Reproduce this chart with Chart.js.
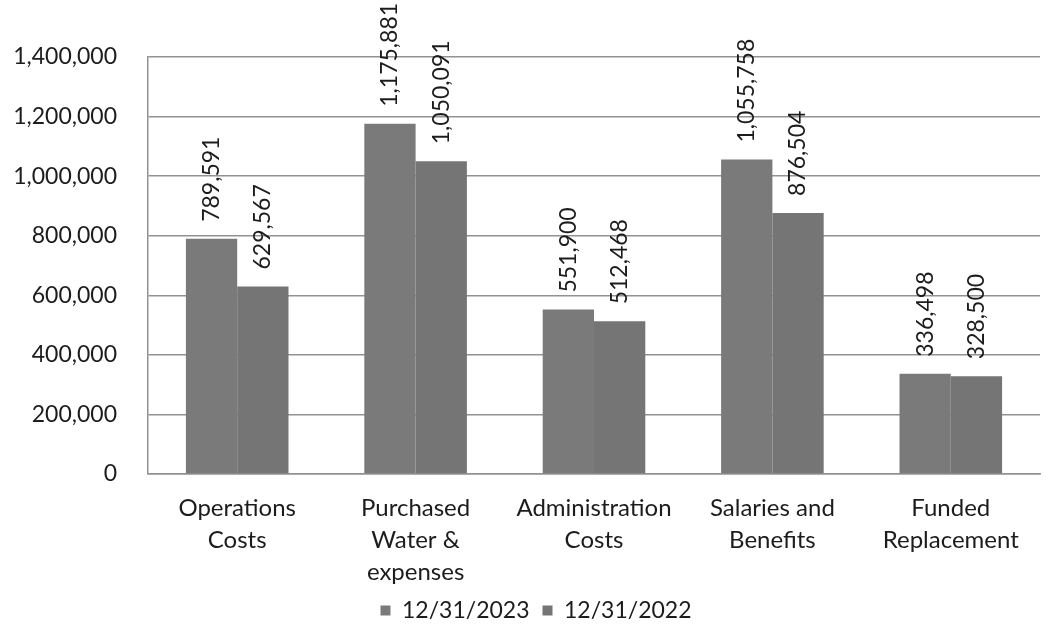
<!DOCTYPE html>
<html>
<head>
<meta charset="utf-8">
<script src="https://cdn.jsdelivr.net/npm/chart.js@4/dist/chart.umd.min.js"></script>
<style>
  html, body { margin: 0; padding: 0; background: #fff; }
  #wrap { width: 1046px; height: 635px; }
</style>
</head>
<body>
<div id="wrap"><canvas id="costChart" width="1046" height="635"></canvas></div>
<script>
const categories = [
  ['Operations', 'Costs'],
  ['Purchased', 'Water &', 'expenses'],
  ['Administration', 'Costs'],
  ['Salaries and', 'Benefits'],
  ['Funded', 'Replacement']
];
const seriesNames = ['12/31/2023', '12/31/2022'];
const values2023 = [789591, 1175881, 551900, 1055758, 336498];
const values2022 = [629567, 1050091, 512468, 876504, 328500];
const yTicks = [0, 200000, 400000, 600000, 800000, 1000000, 1200000, 1400000];

const FONT = 'Lato, "Liberation Sans", sans-serif';
const TEXT = '#1c1c1c';
const GRID = '#929292';

// vertical value labels above each bar
const barLabels = {
  id: 'barLabels',
  afterDatasetsDraw(chart) {
    const ctx = chart.ctx;
    ctx.save();
    ctx.fillStyle = TEXT;
    ctx.font = '23px ' + FONT;
    ctx.textAlign = 'left';
    ctx.textBaseline = 'middle';
    chart.data.datasets.forEach((ds, i) => {
      chart.getDatasetMeta(i).data.forEach((bar, j) => {
        ctx.save();
        ctx.translate(bar.x, bar.y - 17);
        ctx.rotate(-Math.PI / 2);
        ctx.fillText(ds.data[j].toLocaleString('en-US'), 0, 0);
        ctx.restore();
      });
    });
    ctx.restore();
  }
};

// legend sits centred under the plot area rather than the whole canvas
const legendShift = {
  id: 'legendShift',
  afterLayout(chart) {
    const lg = chart.legend;
    if (!lg) return;
    lg.left += 16;
    lg.right += 16;
  }
};

new Chart(document.getElementById('costChart'), {
  type: 'bar',
  data: {
    labels: categories,
    datasets: [
      { label: seriesNames[0], data: values2023, backgroundColor: '#7a7a7a' },
      { label: seriesNames[1], data: values2022, backgroundColor: '#757575' }
    ]
  },
  options: {
    responsive: false,
    animation: false,
    devicePixelRatio: 1,
    layout: { padding: { top: 57, right: 6, left: 0, bottom: 3 } },
    datasets: { bar: { categoryPercentage: 0.575, barPercentage: 1.0 } },
    scales: {
      x: {
        grid: { display: false },
        border: { color: GRID, width: 1.5 },
        ticks: {
          color: TEXT,
          font: { family: FONT, size: 24, lineHeight: 1.34 },
          padding: 10,
          maxRotation: 0,
          autoSkip: false
        },
        afterFit(scale) { scale.height = 112; }
      },
      y: {
        min: 0,
        max: 1400000,
        afterBuildTicks(scale) { scale.ticks = yTicks.map(v => ({ value: v })); },
        grid: { color: GRID, lineWidth: 1.5, drawTicks: false },
        border: { color: GRID, width: 1.5 },
        ticks: {
          color: TEXT,
          font: { family: FONT, size: 23 },
          padding: 31,
          callback: v => v.toLocaleString('en-US')
        },
        afterFit(scale) { scale.width = 148; }
      }
    },
    plugins: {
      legend: {
        position: 'bottom',
        labels: {
          color: TEXT,
          font: { family: FONT, size: 23 },
          boxWidth: 10,
          boxHeight: 10,
          padding: 13
        }
      },
      tooltip: { enabled: false }
    }
  },
  plugins: [barLabels, legendShift]
});
</script>
</body>
</html>
